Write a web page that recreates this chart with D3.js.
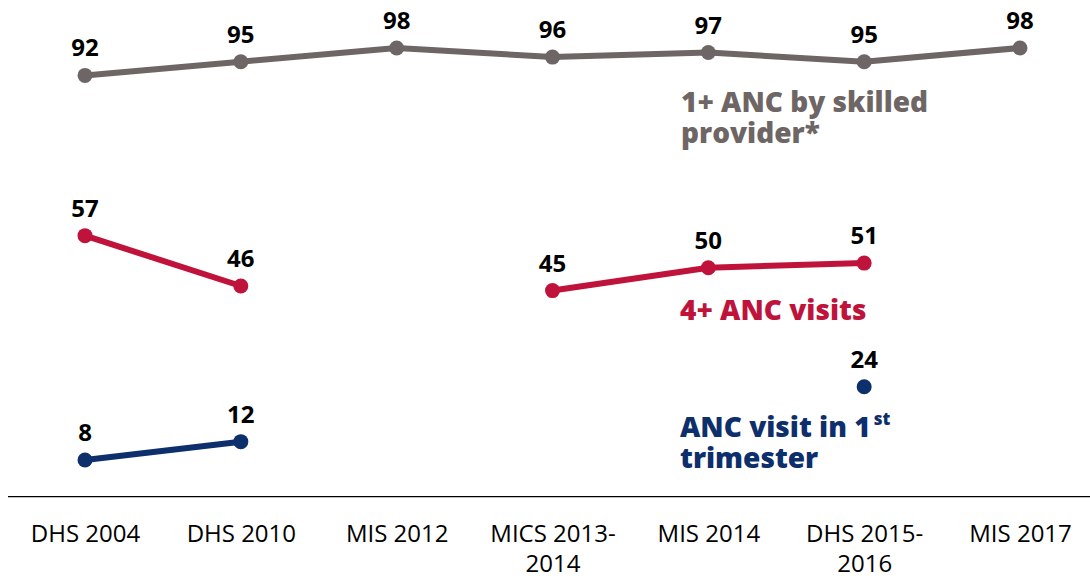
<!DOCTYPE html>
<html>
<head>
<meta charset="utf-8">
<script src="https://cdn.jsdelivr.net/npm/d3@7"></script>
<style>
  html, body { margin: 0; padding: 0; background: #fff; }
  svg { display: block; }
</style>
</head>
<body>
<svg id="chart" width="1090" height="578"></svg>
<script>
// Survey rounds along the x axis
const surveys = ["DHS 2004", "DHS 2010", "MIS 2012", "MICS 2013-2014", "MIS 2014", "DHS 2015-2016", "MIS 2017"];
const tickLines = [["DHS 2004"], ["DHS 2010"], ["MIS 2012"], ["MICS 2013-", "2014"], ["MIS 2014"], ["DHS 2015-", "2016"], ["MIS 2017"]];

// Percent of women; null = not measured in that survey
const anySkilled = [92, 95, 98, 96, 97, 95, 98];
const fourPlus   = [57, 46, null, 45, 50, 51, null];
const firstTri   = [8, 12, null, null, null, 24, null];

const series = [
  { values: anySkilled, color: "#6e6665", label: ["1+ ANC by skilled", "provider*"], lx: 681, ly: 112 },
  { values: fourPlus,   color: "#c0133b", label: ["4+ ANC visits"], lx: 680, ly: 320 },
  { values: firstTri,   color: "#0d2f6b", label: ["ANC visit in 1", "trimester"], sup: "st", lx: 680, ly: 437 }
];

const svg = d3.select("#chart");
const x = d3.scalePoint().domain(surveys).range([85, 1020]);
const y = d3.scaleLinear().domain([0, 100]).range([496.6, 38.8]);

// Baseline axis
svg.append("line")
  .attr("x1", 8).attr("x2", 1090)
  .attr("y1", y(0)).attr("y2", y(0))
  .attr("stroke", "#000").attr("stroke-width", 1.3);

const axis = d3.axisBottom(x).tickSize(0).tickFormat("");
const gAxis = svg.append("g").attr("transform", `translate(0,${y(0)})`).call(axis);
gAxis.select(".domain").remove();
gAxis.selectAll(".tick").each(function(d, i) {
  const t = d3.select(this).append("text")
    .attr("fill", "#000")
    .attr("text-anchor", "middle")
    .style("font-family", "'Open Sans', Lato, sans-serif")
    .style("font-size", "24px");
  tickLines[i].forEach((s, j) => {
    t.append("tspan").attr("x", 0).attr("y", 45 + j * 30).text(s);
  });
});

const line = d3.line()
  .defined(d => d.v !== null)
  .x(d => x(d.k))
  .y(d => y(d.v));

series.forEach(s => {
  const pts = surveys.map((k, i) => ({ k, v: s.values[i] }));
  svg.append("path")
    .datum(pts)
    .attr("fill", "none")
    .attr("stroke", s.color)
    .attr("stroke-width", 6)
    .attr("stroke-linejoin", "round")
    .attr("d", line);

  const valid = pts.filter(d => d.v !== null);
  svg.selectAll(null).data(valid).enter().append("circle")
    .attr("cx", d => x(d.k)).attr("cy", d => y(d.v))
    .attr("r", 7.5).attr("fill", s.color);

  svg.selectAll(null).data(valid).enter().append("text")
    .attr("x", d => x(d.k)).attr("y", d => y(d.v) - 19)
    .attr("text-anchor", "middle")
    .style("font-family", "'Open Sans', Lato, sans-serif")
    .style("font-weight", "bold")
    .style("font-size", "24px")
    .attr("fill", "#000")
    .text(d => d.v);

  // Series name, one text per line
  s.label.forEach((str, j) => {
    const lt = svg.append("text")
      .attr("x", s.lx).attr("y", s.ly + j * 31)
      .attr("fill", s.color)
      .style("font-family", "'Open Sans', Lato, sans-serif")
      .style("font-weight", "800")
      .style("font-size", "28px")
      .text(str);
    if (j === 0 && s.sup) {
      lt.append("tspan").attr("dx", 3).attr("dy", -12).style("font-size", "17px").text(s.sup);
    }
  });
});
</script>
</body>
</html>
